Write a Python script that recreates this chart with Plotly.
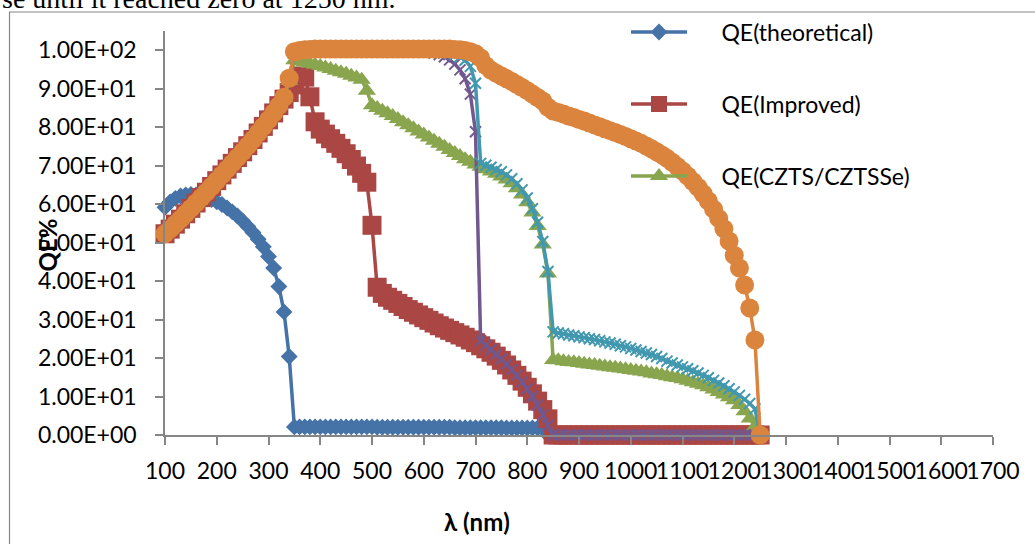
import plotly.graph_objects as go

# ---------------- data ----------------
wavelength = list(range(100, 1260, 10))  # 100 ... 1250 nm

qe_theoretical = [
    59.2, 60.6, 61.5, 62.1, 62.4, 62.5, 62.4, 62.1, 61.7, 61.2,   # 100-190
    60.6, 59.9, 59.0, 58.0, 56.9, 55.6, 54.2, 52.6, 50.9, 48.9,   # 200-290
    46.4, 43.4, 38.6, 32.0, 20.4, 2.1, 2.1, 2.1, 2.1, 2.1,        # 300-390
    2.1, 2.1, 2.1, 2.1, 2.1, 2.1, 2.1, 2.1, 2.1, 2.1,             # 400-490
    2.1, 2.0, 2.0, 2.0, 2.0, 2.0, 2.0, 2.0, 2.0, 2.0,             # 500-590
    2.0, 2.0, 2.0, 2.0, 2.0, 2.0, 1.9, 1.9, 1.9, 1.9,             # 600-690
    1.9, 1.9, 1.9, 1.9, 1.9, 1.9, 1.8, 1.8, 1.8, 1.8,             # 700-790
    1.8, 1.8, 1.8, 1.8, 0.0, 0.0, 0.0, 0.0, 0.0, 0.0,             # 800-890
    0.0, 0.0, 0.0, 0.0, 0.0, 0.0, 0.0, 0.0, 0.0, 0.0,             # 900-990
    0.0, 0.0, 0.0, 0.0, 0.0, 0.0, 0.0, 0.0, 0.0, 0.0,             # 1000-1090
    0.0, 0.0, 0.0, 0.0, 0.0, 0.0, 0.0, 0.0, 0.0, 0.0,             # 1100-1190
    0.0, 0.0, 0.0, 0.0, 0.0, 0.0,                                 # 1200-1250
]

qe_improved = [
    52.3, 53.5, 54.8, 56.1, 57.5, 58.9, 60.3, 61.7, 63.1, 64.6,   # 100-190
    66.1, 67.6, 69.1, 70.6, 72.1, 73.6, 75.2, 76.8, 78.5, 80.2,   # 200-290
    81.9, 83.7, 85.6, 87.3, 89.0, 91.0, 93.3, 93.0, 87.9, 81.4,   # 300-390
    79.5, 78.2, 77.0, 75.8, 74.5, 73.1, 71.6, 69.9, 68.0, 65.7,   # 400-490
    54.5, 38.4, 36.8, 35.8, 35.0, 34.2, 33.4, 32.6, 31.9, 31.2,   # 500-590
    30.5, 29.8, 29.1, 28.4, 27.8, 27.2, 26.6, 26.0, 25.4, 24.7,   # 600-690
    24.0, 23.2, 22.4, 21.5, 20.5, 19.4, 18.2, 16.9, 15.5, 14.0,   # 700-790
    12.4, 10.7, 8.8, 6.6, 4.2, 0.0, 0.0, 0.0, 0.0, 0.0,           # 800-890
    0.0, 0.0, 0.0, 0.0, 0.0, 0.0, 0.0, 0.0, 0.0, 0.0,             # 900-990
    0.0, 0.0, 0.0, 0.0, 0.0, 0.0, 0.0, 0.0, 0.0, 0.0,             # 1000-1090
    0.0, 0.0, 0.0, 0.0, 0.0, 0.0, 0.0, 0.0, 0.0, 0.0,             # 1100-1190
    0.0, 0.0, 0.0, 0.0, 0.0, 0.0,                                 # 1200-1250
]

qe_czts = [
    52.3, 53.5, 54.8, 56.1, 57.5, 58.9, 60.3, 61.7, 63.1, 64.6,   # 100-190
    66.1, 67.6, 69.1, 70.6, 72.1, 73.6, 75.2, 76.8, 78.5, 80.2,   # 200-290
    81.9, 83.7, 85.6, 87.6, 92.0, 97.4, 97.1, 96.8, 96.5, 96.2,   # 300-390
    95.9, 95.5, 95.1, 94.7, 94.3, 93.9, 93.4, 92.9, 92.3, 89.5,   # 400-490
    85.7, 85.0, 84.3, 83.6, 82.9, 82.1, 81.3, 80.5, 79.7, 78.9,   # 500-590
    78.1, 77.3, 76.5, 75.7, 74.9, 74.1, 73.3, 72.5, 71.7, 71.0,   # 600-690
    70.3, 69.7, 69.1, 68.5, 67.9, 67.2, 66.4, 65.4, 64.1, 62.5,   # 700-790
    60.5, 57.8, 54.3, 49.5, 42.0, 19.5, 19.4, 19.2, 19.0, 18.9,   # 800-890
    18.7, 18.5, 18.3, 18.2, 18.0, 17.8, 17.6, 17.5, 17.3, 17.1,   # 900-990
    16.9, 16.7, 16.5, 16.3, 16.0, 15.8, 15.6, 15.3, 15.0, 14.8,   # 1000-1090
    14.5, 14.1, 13.7, 13.3, 12.9, 12.4, 11.8, 11.2, 10.5, 9.8,    # 1100-1190
    9.0, 7.8, 6.2, 4.3, 2.2, 0.0,                                 # 1200-1250
]

qe_series4 = [
    52.3, 53.5, 54.8, 56.1, 57.5, 58.9, 60.3, 61.7, 63.1, 64.6,   # 100-190
    66.1, 67.6, 69.1, 70.6, 72.1, 73.6, 75.2, 76.8, 78.5, 80.2,   # 200-290
    81.9, 83.7, 85.6, 87.6, 92.5, 99.4, 99.6, 99.8, 99.9, 100.0,  # 300-390
    100.0, 100.0, 100.0, 100.0, 100.0, 100.0, 100.0, 100.0, 100.0, 100.0,  # 400-490
    100.0, 100.0, 100.0, 99.9, 99.9, 99.9, 99.8, 99.8, 99.7, 99.7,  # 500-590
    99.6, 99.6, 99.3, 98.9, 98.3, 97.5, 96.4, 94.9, 92.6, 88.6,   # 600-690
    78.8, 24.5, 23.3, 22.2, 21.0, 19.8, 18.4, 17.0, 15.5, 13.8,   # 700-790
    12.0, 10.0, 7.8, 5.3, 2.5, 0.0, 0.0, 0.0, 0.0, 0.0,           # 800-890
    0.0, 0.0, 0.0, 0.0, 0.0, 0.0, 0.0, 0.0, 0.0, 0.0,             # 900-990
    0.0, 0.0, 0.0, 0.0, 0.0, 0.0, 0.0, 0.0, 0.0, 0.0,             # 1000-1090
    0.0, 0.0, 0.0, 0.0, 0.0, 0.0, 0.0, 0.0, 0.0, 0.0,             # 1100-1190
    0.0, 0.0, 0.0, 0.0, 0.0, 0.0,                                 # 1200-1250
]

qe_series5 = [
    52.3, 53.5, 54.8, 56.1, 57.5, 58.9, 60.3, 61.7, 63.1, 64.6,   # 100-190
    66.1, 67.6, 69.1, 70.6, 72.1, 73.6, 75.2, 76.8, 78.5, 80.2,   # 200-290
    81.9, 83.7, 85.6, 87.6, 92.5, 99.5, 99.8, 99.9, 100.0, 100.0, # 300-390
    100.0, 100.0, 100.0, 100.0, 100.0, 100.0, 100.0, 100.0, 100.0, 100.0,  # 400-490
    100.0, 100.0, 100.0, 100.0, 100.0, 100.0, 100.0, 100.0, 100.0, 100.0,  # 500-590
    100.0, 100.0, 99.9, 99.8, 99.6, 99.3, 98.9, 98.3, 97.4, 95.8, # 600-690
    91.4, 70.6, 70.1, 69.6, 69.0, 68.4, 67.6, 66.6, 65.3, 63.7,   # 700-790
    61.6, 58.8, 55.3, 50.3, 42.5, 26.8, 26.5, 26.3, 26.0, 25.8,   # 800-890
    25.5, 25.3, 25.0, 24.8, 24.5, 24.2, 23.9, 23.6, 23.2, 22.9,   # 900-990
    22.5, 22.1, 21.7, 21.3, 20.9, 20.4, 19.9, 19.2, 18.7, 18.2,   # 1000-1090
    17.7, 17.2, 16.7, 16.1, 15.5, 14.9, 14.2, 13.5, 12.8, 12.0,   # 1100-1190
    11.2, 10.3, 9.3, 8.2, 6.8, 0.0,                               # 1200-1250
]

qe_series6 = [
    52.3, 53.5, 54.8, 56.1, 57.5, 58.9, 60.3, 61.7, 63.1, 64.6,   # 100-190
    66.1, 67.6, 69.1, 70.6, 72.1, 73.6, 75.2, 76.8, 78.5, 80.2,   # 200-290
    81.9, 83.7, 85.6, 87.8, 92.7, 99.6, 99.9, 100.1, 100.2, 100.3,  # 300-390
    100.3, 100.3, 100.3, 100.3, 100.3, 100.3, 100.3, 100.3, 100.3, 100.3,  # 400-490
    100.3, 100.3, 100.3, 100.3, 100.3, 100.3, 100.3, 100.3, 100.3, 100.3,  # 500-590
    100.3, 100.3, 100.3, 100.3, 100.3, 100.3, 100.2, 100.1, 99.9, 99.6,    # 600-690
    99.1, 98.0, 96.0, 94.8, 94.0, 93.3, 92.6, 91.9, 91.1, 90.3,   # 700-790
    89.5, 88.6, 87.7, 86.8, 85.2, 84.2, 83.8, 83.4, 82.9, 82.5,   # 800-890
    82.0, 81.6, 81.1, 80.6, 80.1, 79.6, 79.1, 78.6, 78.1, 77.6,   # 900-990
    77.0, 76.4, 75.8, 75.1, 74.4, 73.6, 72.8, 71.9, 70.9, 69.8,   # 1000-1090
    68.6, 67.3, 65.9, 64.4, 62.7, 60.8, 58.7, 56.3, 53.6, 50.4,   # 1100-1190
    46.7, 43.4, 39.0, 33.0, 24.7, 0.0,                            # 1200-1250
]

x_tick_values = [100, 200, 300, 400, 500, 600, 700, 800, 900, 1000,
                 1100, 1200, 1300, 1400, 1500, 1600, 1700]
y_tick_values = [0, 10, 20, 30, 40, 50, 60, 70, 80, 90, 100]
y_tick_labels = ["0.00E+00", "1.00E+01", "2.00E+01", "3.00E+01", "4.00E+01",
                 "5.00E+01", "6.00E+01", "7.00E+01", "8.00E+01", "9.00E+01",
                 "1.00E+02"]

series_names = ["QE(theoretical)", "QE(Improved)", "QE(CZTS/CZTSSe)",
                "Series4", "Series5", "Series6"]

# ---------------- layout geometry ----------------
W, H = 1035, 544
L, R, T, B = 165, 42, 31, 109
PW, PH = W - L - R, H - T - B


def px_x(px):
    return (px - L) / PW


def px_y(py):
    return (H - B - py) / PH


FONT = "Lato, 'Open Sans', sans-serif"
AXIS_GRAY = "#868686"
LEGEND_GAP = "\u00a0" * 5   # gap between legend sample line and its label

fig = go.Figure()

styles = [
    dict(color="#4572A7", symbol="diamond", size=13, legend="legend"),
    dict(color="#AA4643", symbol="square", size=19, legend="legend2"),
    dict(color="#89A54E", symbol="triangle-up", size=16, legend="legend3"),
    dict(color="#71588F", symbol="x-thin-open", size=11, legend=None),
    dict(color="#4198AF", symbol="x-thin-open", size=11, legend=None),
    dict(color="#DB843D", symbol="circle", size=19, legend=None),
]
series_values = [qe_theoretical, qe_improved, qe_czts, qe_series4, qe_series5, qe_series6]

for name, vals, st in zip(series_names, series_values, styles):
    marker = dict(symbol=st["symbol"], size=st["size"], color=st["color"])
    if "open" in st["symbol"]:
        marker["line"] = dict(color=st["color"], width=2)
    else:
        marker["line"] = dict(width=0)
    kw = dict(
        x=wavelength, y=vals, mode="lines+markers",
        line=dict(color=st["color"], width=3.5),
        marker=marker, cliponaxis=False,
    )
    if st["legend"]:
        kw["name"] = LEGEND_GAP + name
        kw["legend"] = st["legend"]
        kw["showlegend"] = True
    else:
        kw["name"] = name
        kw["showlegend"] = False
    fig.add_trace(go.Scatter(**kw))

legend_common = dict(
    xanchor="left", yanchor="middle", bgcolor="rgba(0,0,0,0)",
    font=dict(family=FONT, size=23, color="black"), itemwidth=56,
)
LEG_X = 626
fig.update_layout(
    width=W, height=H,
    margin=dict(l=L, r=R, t=T, b=B, autoexpand=False),
    paper_bgcolor="white", plot_bgcolor="white",
    font=dict(family=FONT, size=23, color="black"),
    legend=dict(x=px_x(LEG_X), y=px_y(32), **legend_common),
    legend2=dict(x=px_x(LEG_X), y=px_y(104), **legend_common),
    legend3=dict(x=px_x(LEG_X), y=px_y(176), **legend_common),
)

fig.update_xaxes(
    range=[100, 1700], tickvals=x_tick_values, tickangle=0,
    ticks="outside", ticklen=8, tickwidth=1.5, tickcolor=AXIS_GRAY,
    showline=True, linecolor=AXIS_GRAY, linewidth=1.5,
    showgrid=False, zeroline=False, ticklabelstandoff=7,
    tickfont=dict(family=FONT, size=23, color="black"),
)
fig.update_yaxes(
    range=[0, 105], tickvals=y_tick_values, ticktext=y_tick_labels,
    ticks="outside", ticklen=8, tickwidth=1.5, tickcolor=AXIS_GRAY,
    showline=True, linecolor=AXIS_GRAY, linewidth=1.5,
    showgrid=False, zeroline=False, ticklabelstandoff=14,
    tickfont=dict(family=FONT, size=23, color="black"),
)

# outer chart border (extends beyond the visible page)
fig.add_shape(type="rect", xref="paper", yref="paper",
              x0=px_x(9.5), x1=px_x(1045), y0=px_y(560), y1=px_y(12),
              line=dict(color=AXIS_GRAY, width=1.2), fillcolor="rgba(0,0,0,0)",
              layer="below")

# axis titles
fig.add_annotation(text="<b>QE%</b>", xref="paper", yref="paper",
                   x=px_x(46.5), y=px_y(245), textangle=-90, showarrow=False,
                   xanchor="center", yanchor="middle",
                   font=dict(family=FONT, size=24, color="black"))
fig.add_annotation(text="<b>λ (nm)</b>", xref="paper", yref="paper",
                   x=px_x(477), y=px_y(521), showarrow=False,
                   xanchor="center", yanchor="middle",
                   font=dict(family=FONT, size=24, color="black"))

# surrounding document text, cut at the top of the picture
fig.add_annotation(text="se until it reached zero at 1250 nm.", xref="paper", yref="paper",
                   x=px_x(0), y=px_y(-1), showarrow=False,
                   xanchor="left", yanchor="middle",
                   font=dict(family="Liberation Serif, serif", size=28, color="black"))

fig.write_html("out.html")
